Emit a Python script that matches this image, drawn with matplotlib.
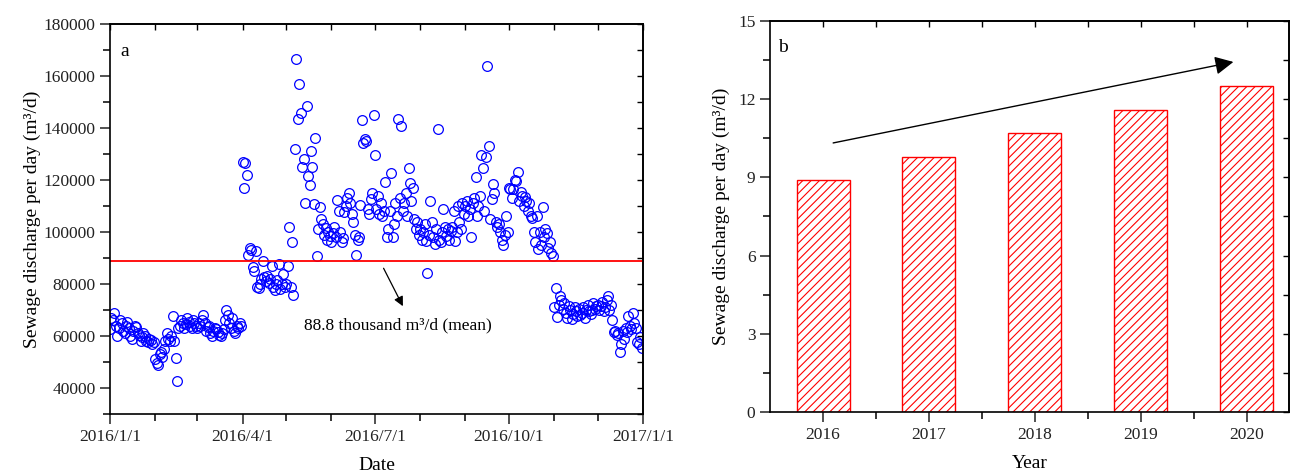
import matplotlib
matplotlib.use("Agg")
import matplotlib.pyplot as plt
import matplotlib.dates as mdates
import matplotlib.ticker as mticker
import numpy as np
import pandas as pd

plt.rcParams['font.family'] = ['Liberation Serif', 'DejaVu Serif']
plt.rcParams['hatch.color'] = 'red'
plt.rcParams['hatch.linewidth'] = 0.8

# daily sewage discharge, 2016 (m3/d), read month by month
jan = [62500, 67000, 66000, 69000, 64000, 60000, 63000, 66000, 65000, 62000, 61000, 64000,
       65500, 63000, 60000, 59000, 62000, 64000, 63500, 61000, 60500, 58000, 59500, 61000,
       60000, 58000, 57500, 59000, 58500, 57000, 57500]
feb = [51000, 49500, 49000, 53000, 54000, 52000, 55000, 58000, 61000, 59000, 58000, 60000,
       67500, 58000, 51400, 42600, 63000, 64000, 66000, 65000, 63000, 64500, 67000, 65500,
       64000, 63000, 66000, 65000, 64000]
mar = [63000, 65000, 64000, 66000, 68000, 65000, 62000, 63500, 64000, 61000, 60000, 62000,
       63000, 62500, 61500, 60500, 60000, 61000, 62500, 66000, 70000, 68000, 65000, 63000,
       67000, 62000, 61000, 64000, 63000, 65000, 64000]
apr = [127000, 117000, 126500, 122000, 91000, 94000, 93000, 86500, 85000, 92500, 79000, 78500,
       80000, 82000, 89000, 82500, 81000, 83000, 80500, 82000, 87000, 79000, 77500, 80000,
       81500, 87500, 78000, 80000, 84000, 79000]
may = [80000, 87000, 102000, 79000, 96000, 75600, 132000, 166600, 143500, 157000, 145800, 125100,
       128200, 111300, 148500, 121700, 118200, 131250, 125100, 110900, 136200, 90600, 101000, 109800,
       105000, 103000, 99000, 101500, 97000, 100000, 98500]
jun = [96000, 99500, 102000, 98000, 112400, 108000, 100000, 96000, 97500, 107500, 110000, 113000,
       115000, 111000, 107000, 104000, 99000, 91000, 97000, 98000, 110500, 143100, 134300, 135900,
       135100, 109000, 107000, 112500, 115000, 145000]
jul = [129700, 109000, 114000, 107000, 111000, 106000, 108000, 119400, 98000, 101000, 108000, 122800,
       98000, 103000, 111000, 106000, 143500, 113000, 140800, 108000, 111000, 115000, 106000, 124700,
       119000, 112000, 117000, 105000, 101000, 104000, 99000]
aug = [101000, 97000, 100000, 103000, 96500, 84400, 99000, 112000, 104000, 98000, 95500, 101000,
       139700, 97000, 96000, 100000, 109000, 102000, 98500, 101000, 97000, 100500, 102000, 108000,
       96500, 100000, 110000, 104000, 101000, 111000, 107000]
sep = [110000, 112000, 106000, 109000, 98000, 111000, 113000, 121300, 106000, 110000, 114000, 129700,
       124700, 108000, 128900, 163900, 133200, 105000, 112800, 118600, 115100, 104000, 102000, 103000,
       100000, 97000, 95000, 99000, 106000, 100000]
oct_ = [117000, 116500, 113000, 116700, 120000, 119700, 123200, 112000, 115500, 114000, 110000, 113600,
        112000, 108000, 111300, 106000, 105500, 100000, 96000, 106000, 93500, 100000, 95000, 109800,
        98000, 101000, 99600, 94000, 96000, 92000, 90600]
nov = [71000, 78300, 67200, 72000, 75500, 74000, 70500, 72500, 69000, 67000, 71500, 70000,
       66500, 68500, 71000, 69500, 67500, 70500, 68000, 69000, 71000, 67000, 70000, 72000,
       69500, 68500, 70000, 72500, 70500, 71500]
dec = [72000, 70000, 71500, 73000, 69500, 71000, 74000, 75200, 70000, 72000, 66000, 61500,
       62000, 60500, 61000, 53700, 56800, 62000, 59000, 63000, 61500, 67500, 64000, 62500,
       68700, 65000, 63000, 57500, 56800, 59500, 55200]

daily = jan + feb + mar + apr + may + jun + jul + aug + sep + oct_ + nov + dec
dates = pd.date_range('2016-01-01', periods=len(daily), freq='D')
mean_value = 88800

years = [2016, 2017, 2018, 2019, 2020]
yearly = [8.9, 9.8, 10.7, 11.6, 12.5]

fig = plt.figure(figsize=(12.94, 4.76), dpi=100)
ax1 = fig.add_axes([0.0850, 0.1303, 0.4119, 0.8193])
ax2 = fig.add_axes([0.5951, 0.1345, 0.4011, 0.8214])

tick_fs = 12.5
label_fs = 14

# ---- panel a ----
ax1.plot(dates, daily, linestyle='none', marker='o', markersize=7, markerfacecolor='none',
         markeredgecolor='#0000ff', markeredgewidth=0.9)
ax1.axhline(mean_value, color='red', lw=1.3)
ax1.set_xlim(pd.Timestamp('2016-01-01'), pd.Timestamp('2017-01-01'))
ax1.set_ylim(30000, 180000)
ax1.xaxis.set_major_locator(mdates.MonthLocator(bymonth=[1, 4, 7, 10]))
ax1.xaxis.set_minor_locator(mdates.MonthLocator())
ax1.xaxis.set_major_formatter(mticker.FuncFormatter(
    lambda v, p: (lambda d: f"{d.year}/{d.month}/{d.day}")(mdates.num2date(v))))
ax1.yaxis.set_major_locator(mticker.FixedLocator(np.arange(40000, 180001, 20000)))
ax1.yaxis.set_minor_locator(mticker.MultipleLocator(10000))
ax1.set_xlabel('Date', fontsize=label_fs, labelpad=9)
ax1.set_ylabel('Sewage discharge per day (m³/d)', fontsize=label_fs, labelpad=2)
ax1.text(0.02, 0.95, 'a', transform=ax1.transAxes, fontsize=label_fs, va='top')
ax1.annotate('', xy=(mdates.date2num(pd.Timestamp('2016-07-21')), 70500),
             xytext=(mdates.date2num(pd.Timestamp('2016-07-06')), 87000),
             arrowprops=dict(arrowstyle='-|>', color='black', lw=0.9, mutation_scale=14))
ax1.text(mdates.date2num(pd.Timestamp('2016-07-17')), 64000, '88.8 thousand m³/d (mean)',
         fontsize=tick_fs, ha='center', va='center')

sec_x1 = ax1.secondary_xaxis('top')
sec_x1.xaxis.set_major_locator(mdates.MonthLocator())
sec_x1.tick_params(direction='in', length=4, width=1, labeltop=False)
sec_y1 = ax1.secondary_yaxis('right')
sec_y1.yaxis.set_major_locator(mticker.MultipleLocator(10000))
sec_y1.tick_params(direction='in', length=4, width=1, labelright=False)

# ---- panel b ----
ax2.bar(years, yearly, width=0.5, facecolor='white', edgecolor='red', hatch='////', lw=1.0)
ax2.set_xlim(2015.5, 2020.4)
ax2.set_ylim(0, 15)
ax2.xaxis.set_major_locator(mticker.FixedLocator(years))
ax2.xaxis.set_minor_locator(mticker.FixedLocator([y + 0.5 for y in years[:-1]]))
ax2.yaxis.set_major_locator(mticker.MultipleLocator(3))
ax2.yaxis.set_minor_locator(mticker.MultipleLocator(1.5))
ax2.set_xlabel('Year', fontsize=label_fs, labelpad=9)
ax2.set_ylabel('Sewage discharge per day (m³/d)', fontsize=label_fs, labelpad=6)
ax2.text(0.015, 0.955, 'b', transform=ax2.transAxes, fontsize=label_fs, va='top')
ax2.annotate('', xy=(2019.9, 13.45), xytext=(2016.07, 10.3),
             arrowprops=dict(arrowstyle='-|>', color='black', lw=1.0, mutation_scale=28))

sec_x2 = ax2.secondary_xaxis('top')
sec_x2.xaxis.set_major_locator(mticker.FixedLocator([y + 0.5 for y in years[:-1]] + years))
sec_x2.tick_params(direction='in', length=4, width=1, labeltop=False)
sec_y2 = ax2.secondary_yaxis('right')
sec_y2.yaxis.set_major_locator(mticker.MultipleLocator(1.5))
sec_y2.tick_params(direction='in', length=4, width=1, labelright=False)

for ax in (ax1, ax2):
    ax.tick_params(which='major', direction='out', length=7, width=1.1, labelsize=tick_fs, colors='#222222')
    ax.tick_params(which='minor', direction='out', length=5, width=1.1)
    for s in ax.spines.values():
        s.set_linewidth(1.2)
for sec in (sec_x1, sec_y1, sec_x2, sec_y2):
    for s in sec.spines.values():
        s.set_linewidth(1.2)

fig.savefig('out.png', dpi=100)
